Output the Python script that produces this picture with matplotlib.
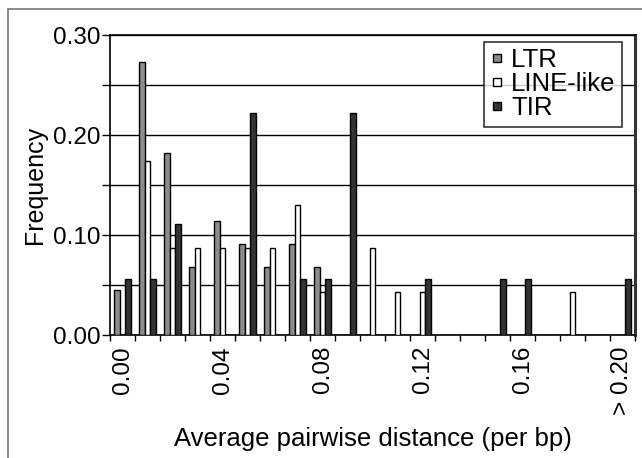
import matplotlib
matplotlib.use("Agg")
from matplotlib import pyplot as plt
from matplotlib.lines import Line2D
from matplotlib.patches import Rectangle

plt.rcParams['font.family'] = ['Liberation Sans', 'DejaVu Sans']

# bins of 0.01, last bin is "> 0.20"
bins = list(range(21))
tick_pos = [0, 4, 8, 12, 16, 20]
tick_labels = ["0.00", "0.04", "0.08", "0.12", "0.16", "> 0.20"]

ltr = [0.045, 0.273, 0.182, 0.068, 0.114, 0.091, 0.068, 0.091, 0.068, 0, 0,
       0, 0, 0, 0, 0, 0, 0, 0, 0, 0]
line_like = [0, 0.174, 0.087, 0.087, 0.087, 0.087, 0.087, 0.130, 0.043, 0, 0.087,
             0.043, 0.043, 0, 0, 0, 0, 0, 0.043, 0, 0]
tir = [0.056, 0.056, 0.111, 0, 0, 0.222, 0, 0.056, 0.056, 0.222, 0,
       0, 0.056, 0, 0, 0.056, 0.056, 0, 0, 0, 0.056]

names = ["LTR", "LINE-like", "TIR"]
colors = ["#8c8c8c", "white", "#333333"]

fig = plt.figure(figsize=(6.42, 4.58), dpi=100)
ax = fig.add_axes([110/642, 123/458, 525/642, 300/458])

# grey frame around the chart (left and top only visible)
fig.patches.append(Rectangle((8/642, -0.1), 1.2, (458-9.5)/458 + 0.1,
                             transform=fig.transFigure, fill=False,
                             edgecolor="#777777", lw=1.2))

w = 0.227
for k, vals in enumerate([ltr, line_like, tir]):
    xs = [b + (k - 1) * w for b in bins]
    ax.bar(xs, vals, w, color=colors[k], edgecolor="black", linewidth=1.0, zorder=3)

ax.set_xlim(-0.5, 20.5)
ax.set_ylim(0, 0.30)
ax.set_yticks([0, 0.10, 0.20, 0.30])
ax.set_yticklabels(["0.00", "0.10", "0.20", "0.30"])
ax.set_yticks([0.05, 0.15, 0.25], minor=True)
ax.yaxis.grid(True, which="both", color="black", lw=1.0, zorder=0)

ax.set_xticks(tick_pos)
ax.set_xticklabels(tick_labels, rotation=90, va="top")
ax.set_xticks([b - 0.5 for b in bins] + [20.5], minor=True)
ax.tick_params(axis="x", which="major", length=0, pad=8, labelsize=17.5)
ax.tick_params(axis="x", which="minor", length=4, width=1, direction="out")
ax.tick_params(axis="y", which="both", length=6, width=1, direction="out", labelsize=17.5, pad=1)

for s in ["left", "bottom", "top"]:
    ax.spines[s].set_linewidth(1.2)
ax.spines["right"].set_linewidth(2.2)
ax.spines["right"].set_color("#333333")

ax.set_ylabel("Frequency", fontsize=18, labelpad=4)
ax.set_xlabel("Average pairwise distance (per bp)", fontsize=18.5, labelpad=9)

handles = [Line2D([], [], ls="none", marker="s", markersize=6,
                  markerfacecolor=c, markeredgecolor="black", markeredgewidth=1)
           for c in colors]
leg = ax.legend(handles, names, loc="upper right", bbox_to_anchor=(0.975, 0.977),
                fontsize=18.5, frameon=True, fancybox=False, handlelength=0.5,
                handletextpad=0.3, borderpad=0.25, labelspacing=0.0, borderaxespad=0)
leg.get_frame().set_edgecolor("black")
leg.get_frame().set_linewidth(1.2)
leg.set_zorder(5)

fig.savefig("out.png", dpi=100)
